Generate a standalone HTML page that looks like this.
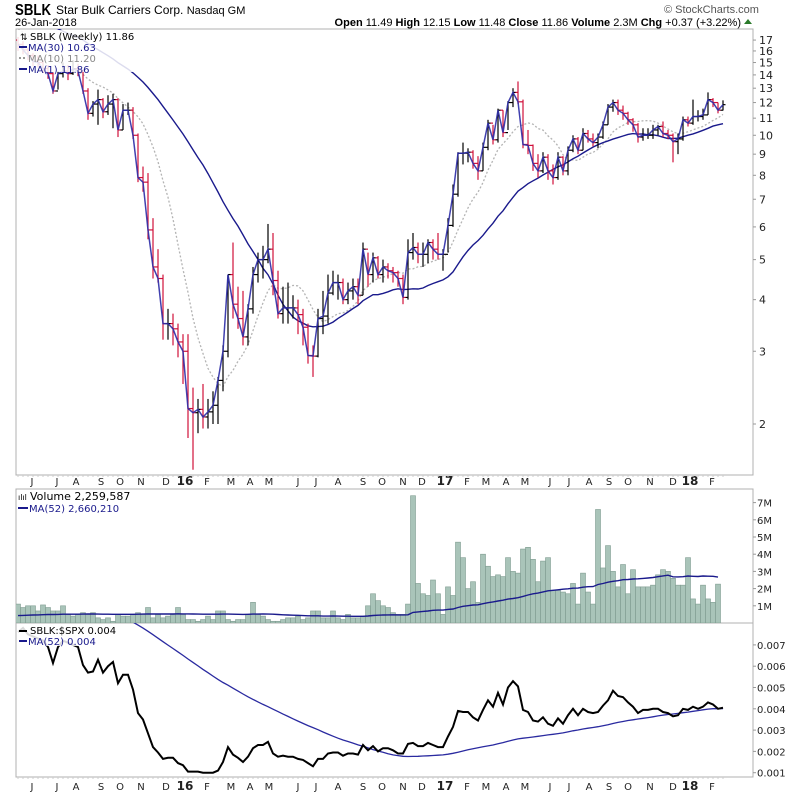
<!DOCTYPE html>
<html><head><meta charset="utf-8"><title>SBLK chart</title>
<style>
html,body{margin:0;padding:0;background:#fff;}
svg{display:block;font-family:"DejaVu Sans","Liberation Sans",sans-serif;}
</style></head>
<body>
<svg id="chart" width="800" height="795" viewBox="0 0 800 795" xmlns="http://www.w3.org/2000/svg">
<defs>
<clipPath id="cpMain"><rect x="16" y="29" width="737" height="446"/></clipPath>
<clipPath id="cpVol"><rect x="16" y="489" width="737" height="134"/></clipPath>
<clipPath id="cpRat"><rect x="16" y="623" width="737" height="154"/></clipPath>
</defs>
<rect x="0" y="0" width="800" height="795" fill="#fff"/>
<g>
<text x="15" y="15" font-size="16" font-weight="bold" textLength="36" lengthAdjust="spacingAndGlyphs" font-family="Liberation Sans, sans-serif">SBLK</text>
<text x="56" y="14" font-size="12" font-family="Liberation Sans, sans-serif">Star Bulk Carriers Corp. <tspan font-size="11">Nasdaq GM</tspan></text>
<text x="15" y="26" font-size="11" font-family="Liberation Sans, sans-serif">26-Jan-2018</text>
<text x="664" y="13" font-size="11" fill="#555" font-family="Liberation Sans, sans-serif">© StockCharts.com</text>
<text x="741" y="26" font-size="11" text-anchor="end" font-family="Liberation Sans, sans-serif"><tspan font-weight="bold">Open</tspan> 11.49  <tspan font-weight="bold">High</tspan> 12.15  <tspan font-weight="bold">Low</tspan> 11.48  <tspan font-weight="bold">Close</tspan> 11.86  <tspan font-weight="bold">Volume</tspan> 2.3M  <tspan font-weight="bold">Chg</tspan> +0.37 (+3.22%)</text>
<path d="M744 24 L748 19 L752 24 Z" fill="#2a7a2a"/>
</g>
<rect x="16" y="29" width="737" height="446" fill="none" stroke="#b0b0b0"/>
<rect x="16" y="489" width="737" height="134" fill="none" stroke="#b0b0b0"/>
<rect x="16" y="623" width="737" height="154" fill="none" stroke="#b0b0b0"/>
<g id="gMain" clip-path="url(#cpMain)"></g>
<g id="gVol" clip-path="url(#cpVol)"></g>
<g id="gRat" clip-path="url(#cpRat)"></g>
<g id="gAxes"></g>
<g font-size="10">
<rect x="17" y="30" width="135" height="42" fill="#fff" opacity="0.85"/>
<text x="20" y="40" font-size="9">⇅</text>
<text x="30" y="40">SBLK (Weekly) 11.86</text>
<line x1="19" y1="47" x2="27" y2="47" stroke="#1a1a8c" stroke-width="2"/>
<text x="28" y="51" fill="#1a1a8c">MA(30) 10.63</text>
<line x1="19" y1="58" x2="27" y2="58" stroke="#999" stroke-width="2" stroke-dasharray="2,2"/>
<text x="28" y="62" fill="#888">MA(10) 11.20</text>
<line x1="19" y1="69" x2="27" y2="69" stroke="#1a1a8c" stroke-width="2"/>
<text x="28" y="73" fill="#1a1a8c">MA(1) 11.86</text>
</g>
<g font-size="10">
<text x="18" y="500" font-size="8">ılıl</text>
<text x="30" y="500" font-size="11">Volume 2,259,587</text>
<line x1="18" y1="508" x2="28" y2="508" stroke="#1a1a8c" stroke-width="2"/>
<text x="29" y="512" fill="#1a1a8c">MA(52) 2,660,210</text>
</g>
<g font-size="10">
<rect x="17" y="624" width="115" height="22" fill="#fff" opacity="0.85"/>
<line x1="19" y1="631" x2="27" y2="631" stroke="#000" stroke-width="2"/>
<text x="30" y="634">SBLK:$SPX 0.004</text>
<line x1="19" y1="641" x2="27" y2="641" stroke="#1a1a8c" stroke-width="2"/>
<text x="28" y="645" fill="#1a1a8c">MA(52) 0.004</text>
</g>
</svg>
<script>
const closes=[16.6,16.1,15.6,15.1,15.0,14.5,14.1,12.8,14.1,14.3,14.1,14.5,14.3,12.8,11.3,11.9,12.2,11.4,11.9,12.2,10.3,11.5,11.5,10.0,7.9,7.7,5.9,4.8,4.5,3.5,3.5,3.4,3.16,3.0,2.18,2.13,2.17,2.08,2.14,2.22,2.55,3.0,4.6,3.9,3.6,3.25,3.8,4.6,5.0,5.0,5.3,4.45,3.7,3.82,3.82,3.82,3.68,3.43,2.93,2.92,3.6,3.65,4.15,4.4,4.4,4.0,4.2,4.3,4.1,5.3,4.6,5.05,4.6,4.8,4.7,4.65,4.5,4.05,5.2,5.35,5.15,5.15,5.5,5.3,5.15,5.15,6.05,7.2,9.05,9.05,9.1,8.55,8.2,9.35,10.7,9.75,11.5,10.15,12.0,12.7,12.05,9.5,9.45,8.55,8.2,8.85,8.2,7.9,8.85,8.2,9.2,9.8,9.2,10.1,9.8,9.6,9.9,10.6,11.7,12.0,11.5,11.3,10.9,10.6,9.9,10.0,10.0,10.3,10.5,10.1,10.0,9.65,9.8,10.9,10.7,11.1,11.1,11.2,12.2,12.0,11.5,11.86];
const highs=[17.3,16.9,16.3,15.8,15.6,15.2,14.8,14.2,14.3,15.0,14.8,15.2,14.9,14.4,13.0,12.1,12.9,12.3,12.5,12.6,12.3,11.9,12.0,11.7,10.1,8.4,8.1,6.3,5.3,4.6,3.8,3.7,3.5,3.3,3.3,2.45,2.3,2.5,2.3,2.4,2.6,3.1,4.6,5.5,4.3,4.2,3.9,4.8,5.2,5.4,6.1,5.8,4.7,4.3,4.4,4.1,4.0,3.8,3.5,3.1,3.8,4.2,4.6,4.7,4.6,4.5,4.4,4.5,4.5,5.5,5.2,5.2,5.1,5.0,4.9,4.8,4.7,4.6,5.6,5.8,5.5,5.5,5.6,5.6,5.8,5.3,6.3,7.6,9.1,9.6,9.3,9.2,8.9,9.6,10.9,10.6,11.6,11.5,12.1,13.0,13.5,12.2,10.3,9.5,9.0,9.1,9.0,8.5,9.1,8.9,9.4,10.0,9.9,10.4,10.3,10.1,10.1,10.8,11.9,12.2,12.2,11.8,11.4,11.0,10.7,10.4,10.4,10.6,10.6,10.8,10.3,10.1,10.1,11.1,11.1,12.2,11.5,11.6,12.7,12.3,12.0,12.15];
const lows=[16.0,15.7,15.2,14.7,14.6,14.2,13.7,12.6,12.9,13.8,13.6,14.0,13.9,12.6,10.9,11.1,10.6,11.0,11.2,10.4,9.9,10.3,11.2,9.8,7.7,7.3,5.6,4.5,4.4,3.2,3.2,3.1,2.9,2.5,1.85,1.55,1.9,1.95,1.95,2.0,2.0,2.4,2.9,3.6,3.4,3.1,3.1,3.7,4.4,4.5,4.9,4.1,3.6,3.5,3.5,3.6,3.3,3.1,2.8,2.6,2.9,3.3,3.5,4.1,4.0,3.9,3.9,4.0,3.9,4.1,4.3,4.4,4.5,4.4,4.5,4.4,4.3,3.9,4.0,5.0,4.9,4.8,4.9,5.0,5.0,4.7,5.2,6.0,7.1,8.5,8.6,8.3,7.8,8.2,9.2,9.5,9.6,9.9,10.3,11.7,11.9,9.3,9.0,8.2,7.9,8.1,7.8,7.6,7.8,8.0,8.0,9.1,9.0,9.2,9.6,9.4,9.3,9.8,10.6,11.4,11.2,10.9,10.6,10.2,9.6,9.7,9.8,9.8,10.0,9.9,9.8,8.6,9.0,9.7,10.5,10.6,10.8,10.9,11.2,11.7,11.3,11.48];
const priorCloses=[19.5,20.2,20.8,21.0,20.4,19.8,20.1,20.6,21.2,20.9,20.3,19.9,20.5,21.0,20.7,20.2,19.6,19.9,20.4,20.0,19.5,19.2,19.0,18.6,18.2,18.0,17.6,17.3,17.0];
const volumes=[1.1,0.9,1.0,1.0,0.7,1.05,0.9,0.7,0.7,1.0,0.5,0.4,0.5,0.6,0.5,0.6,0.3,0.2,0.3,0.1,0.5,0.4,0.4,0.5,0.6,0.5,0.9,0.3,0.5,0.3,0.4,0.5,0.9,0.5,0.2,0.2,0.1,0.2,0.4,0.2,0.7,0.7,0.2,0.1,0.2,0.2,0.5,1.2,0.5,0.4,0.2,0.1,0.1,0.2,0.3,0.3,0.4,0.2,0.3,0.7,0.7,0.3,0.3,0.7,0.3,0.2,0.5,0.3,0.3,0.4,1.0,1.7,1.3,1.0,0.9,0.6,0.5,0.5,1.1,7.4,2.3,1.7,1.6,2.5,1.7,0.5,2.1,1.6,4.7,3.8,2.0,2.4,1.2,4.0,3.3,2.7,2.8,2.7,3.8,3.0,2.9,4.3,4.4,3.7,2.4,3.6,3.8,1.9,1.9,1.8,1.7,2.3,1.1,2.9,1.8,1.1,6.6,3.2,4.5,3.0,2.1,3.4,1.7,3.1,2.1,2.1,2.1,2.2,2.8,3.1,3.0,2.6,2.2,2.2,3.8,1.4,1.1,2.2,1.4,1.2,2.26];
const priorVolumes=[0.4,0.5,0.4,0.3,0.5,0.4,0.6,0.4,0.3,0.4,0.5,0.4,0.4,0.3,0.5,0.6,0.4,0.4,0.3,0.5,0.4,0.4,0.5,0.3,0.4,0.4,0.5,0.4,0.3,0.4,0.5,0.4,0.6,0.4,0.4,0.3,0.5,0.4,0.4,0.5,0.4,0.3,0.4,0.5,0.4,0.4,0.5,0.4,0.3,0.4,0.5];
const ratios=[7.6,7.8,7.5,7.4,7.3,7.2,6.9,6.15,6.9,7.2,7.1,7.0,6.9,6.05,5.7,5.75,6.3,5.7,6.0,6.2,5.2,5.6,5.6,4.9,3.8,3.5,2.85,2.2,1.95,1.65,1.7,1.7,1.45,1.35,1.05,1.05,1.05,1.0,1.0,1.0,1.1,1.5,2.2,1.85,1.7,1.5,1.75,2.15,2.3,2.3,2.45,1.9,1.75,1.8,1.75,1.75,1.65,1.6,1.45,1.3,1.65,1.65,1.9,1.95,1.95,1.8,1.9,1.9,1.85,2.3,2.05,2.25,2.0,2.15,2.15,2.05,1.9,1.9,2.35,2.4,2.25,2.25,2.4,2.3,2.2,2.2,2.7,3.15,3.9,3.85,3.85,3.6,3.45,3.95,4.4,4.1,4.75,4.2,5.0,5.3,5.05,3.95,3.85,3.45,3.4,3.6,3.3,3.2,3.55,3.3,3.7,4.0,3.7,4.0,3.85,3.8,3.85,4.15,4.4,4.85,4.6,4.55,4.3,4.1,3.8,3.95,3.95,4.0,4.0,3.85,3.8,3.65,3.7,4.0,3.95,4.1,4.0,4.1,4.3,4.2,4.0,4.05];
const priorRatios=[14.2,13.9,14.0,13.6,13.5,13.3,13.4,13.0,12.8,12.9,12.6,12.4,12.5,12.2,12.0,11.9,11.7,11.8,11.5,11.3,11.4,11.1,10.9,10.8,10.9,10.6,10.4,10.5,10.2,10.1,10.0,9.8,9.9,9.7,9.5,9.6,9.4,9.2,9.3,9.1,9.0,8.9,9.0,8.8,8.6,8.7,8.5,8.3,8.4,8.2,8.0];
const monthLabels=["J","J","A","S","O","N","D","16","F","M","A","M","J","J","A","S","O","N","D","17","F","M","A","M","J","J","A","S","O","N","D","18","F"];
const monthWeeks=[2.8,7.8,11.6,16.6,20.4,24.6,29.6,33.4,37.8,42.6,46.4,50.2,56,59.6,64,69,72.8,77,80.8,85.4,89.8,93.6,97.6,101.4,106.4,110.2,114.2,118.2,122,126.4,131,134.4,138.8];
const priceTicks=[2,3,4,5,6,7,8,9,10,11,12,13,14,15,16,17];
const volTicks=[1,2,3,4,5,6,7];
const volTickLabels=["1M","2M","3M","4M","5M","6M","7M"];
const ratioTicks=[1,2,3,4,5,6,7];
const ratioTickLabels=["0.001","0.002","0.003","0.004","0.005","0.006","0.007"];

const NS="http://www.w3.org/2000/svg";
function xAt(i){return 18+5*i;}
function yPrice(p){return 424-179.4*Math.log(p/2);}
function yVol(v){return 623-v*17.2;}
function yRat(v){return 794-v*21.3;}
function mk(tag,attrs,parent){const e=document.createElementNS(NS,tag);for(const k in attrs)e.setAttribute(k,attrs[k]);parent.appendChild(e);return e;}
function sma(series,prior,n){const all=prior.concat(series);const out=[];for(let i=0;i<series.length;i++){const j=i+prior.length;const s=Math.max(0,j-n+1);let t=0;for(let k=s;k<=j;k++)t+=all[k];out.push(t/(j-s+1));}return out;}
function pathOf(vals,yf){return vals.map((v,i)=>(i?'L':'M')+xAt(i).toFixed(1)+' '+yf(v).toFixed(1)).join(' ');}

const gMain=document.getElementById('gMain'),gVol=document.getElementById('gVol'),gRat=document.getElementById('gRat'),gAx=document.getElementById('gAxes');

const ma30=sma(closes,priorCloses,30),ma10=sma(closes,priorCloses,10);
let p=mk('path',{d:pathOf(ma10,yPrice),fill:'none',stroke:'#b4b4b4','stroke-width':1.3,'stroke-dasharray':'2,2'},gMain);


p=mk('path',{d:pathOf(ma30,yPrice),fill:'none',stroke:'#1a1a8c','stroke-width':1.4},gMain);


for(let i=0;i<closes.length;i++){
  const prev=i?closes[i-1]:priorCloses[priorCloses.length-1];
  const col=closes[i]<prev?'#d0103a':'#000';
  const x=xAt(i);
  const g=mk('g',{stroke:col,'stroke-width':1.2},gMain);
  
  
  mk('line',{x1:x,x2:x,y1:yPrice(highs[i]),y2:yPrice(lows[i])},g);
  mk('line',{x1:x-2.5,x2:x,y1:yPrice(prev),y2:yPrice(prev)},g);
  mk('line',{x1:x,x2:x+2.5,y1:yPrice(closes[i]),y2:yPrice(closes[i])},g);
}
p=mk('path',{d:pathOf(closes,yPrice),fill:'none',stroke:'#2b2ba6','stroke-width':1.5,opacity:0.9},gMain);



for(let i=0;i<volumes.length;i++){
  const y=yVol(volumes[i]);
  const r=mk('rect',{x:xAt(i)-2.5,y:y,width:5,height:623-y,fill:'#a9c4b9',stroke:'#7f9c90','stroke-width':0.6},gVol);
  
  
}
const vma=sma(volumes,priorVolumes,52);
p=mk('path',{d:pathOf(vma,yVol),fill:'none',stroke:'#1a1a8c','stroke-width':1.4},gVol);



const rma=sma(ratios,priorRatios,52);
p=mk('path',{d:pathOf(rma,yRat),fill:'none',stroke:'#2a2aa0','stroke-width':1.3},gRat);


p=mk('path',{d:pathOf(ratios,yRat),fill:'none',stroke:'#000','stroke-width':2},gRat);



function label(x,y,txt,name,extra){const t=mk('text',Object.assign({x:x,y:y,'font-size':11,fill:'#222'},extra||{}),gAx);t.textContent=txt;return t;}
priceTicks.forEach(v=>{const y=yPrice(v);mk('line',{x1:753,x2:756,y1:y,y2:y,stroke:'#999'},gAx);label(759,y+4,String(v),'price-tick-label');});
volTicks.forEach((v,k)=>{const y=yVol(v);mk('line',{x1:753,x2:756,y1:y,y2:y,stroke:'#999'},gAx);label(757,y+4,volTickLabels[k],'volume-tick-label',{'font-size':10});});
ratioTicks.forEach((v,k)=>{const y=yRat(v);mk('line',{x1:753,x2:756,y1:y,y2:y,stroke:'#999'},gAx);label(757,y+4,ratioTickLabels[k],'ratio-tick-label',{'font-size':10});});
monthLabels.forEach((m,k)=>{const x=xAt(monthWeeks[k]);const bold=/\d/.test(m);
  label(x,485,m,'month-label-top',{'text-anchor':'middle','font-size':bold?12:10,'font-weight':bold?'bold':'normal'});
  label(x,790,m,'month-label-bottom',{'text-anchor':'middle','font-size':bold?12:10,'font-weight':bold?'bold':'normal'});
});
for(let i=0;i<closes.length;i++){const x=xAt(i);mk('line',{x1:x,x2:x,y1:475,y2:477,stroke:'#ccc'},gAx);mk('line',{x1:x,x2:x,y1:777,y2:779,stroke:'#ccc'},gAx);}
</script>
</body></html>
